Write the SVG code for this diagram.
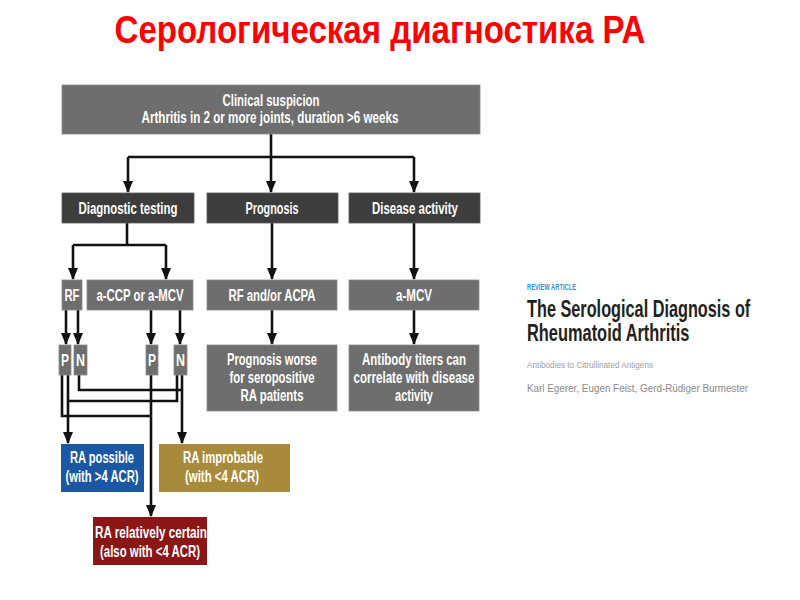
<svg xmlns="http://www.w3.org/2000/svg" width="800" height="600" viewBox="0 0 800 600">
<defs>
<style>
.t{font-family:"Liberation Sans",Arial,sans-serif;font-weight:bold;fill:#fff;font-size:16.5px;text-anchor:middle}
.mid{fill:#6e6e6e;stroke:#8a8a8a;stroke-width:0.8}
.dark{fill:#3d3d3d;stroke:#5a5a5a;stroke-width:0.8}
.c{fill:none;stroke:#111;stroke-width:2.6}
</style>
<marker id="ah" viewBox="0 0 12 10" refX="11" refY="5" markerWidth="12" markerHeight="10" markerUnits="userSpaceOnUse" orient="auto">
<path d="M0,0 L12,5 L0,10 Z" fill="#111"/>
</marker>
</defs>
<rect width="800" height="600" fill="#fff"/>
<text x="380" y="43" font-family="'Liberation Sans',Arial,sans-serif" font-weight="bold" font-size="38" fill="#f00" text-anchor="middle" textLength="531" lengthAdjust="spacingAndGlyphs">Серологическая диагностика РА</text>

<g id="connectors">
<path class="c" d="M271,134 V157 M128,157 H414"/>
<path class="c" d="M128,157 V192" marker-end="url(#ah)"/>
<path class="c" d="M271,157 V192" marker-end="url(#ah)"/>
<path class="c" d="M414,157 V192" marker-end="url(#ah)"/>
<path class="c" d="M127,223 V245 M73,245 H166"/>
<path class="c" d="M73,245 V279" marker-end="url(#ah)"/>
<path class="c" d="M166,245 V279" marker-end="url(#ah)"/>
<path class="c" d="M272,223 V279" marker-end="url(#ah)"/>
<path class="c" d="M414,223 V279" marker-end="url(#ah)"/>
<path class="c" d="M66,310 V344" marker-end="url(#ah)"/>
<path class="c" d="M78,310 V344" marker-end="url(#ah)"/>
<path class="c" d="M151,310 V344" marker-end="url(#ah)"/>
<path class="c" d="M180,310 V344" marker-end="url(#ah)"/>
<path class="c" d="M272,310 V344" marker-end="url(#ah)"/>
<path class="c" d="M414,310 V344" marker-end="url(#ah)"/>
<path class="c" d="M62,375 V416 H151"/>
<path class="c" d="M151,375 V516" marker-end="url(#ah)"/>
<path class="c" d="M68,375 V443" marker-end="url(#ah)"/>
<path class="c" d="M68,401 H177 V375"/>
<path class="c" d="M79,375 V390 H182"/>
<path class="c" d="M182,375 V443" marker-end="url(#ah)"/>
</g>

<g id="clinical">
<rect class="mid" x="62" y="85" width="418" height="49"/>
<text class="t" x="271" y="106" textLength="97" lengthAdjust="spacingAndGlyphs">Clinical suspicion</text>
<text class="t" x="270" y="123" textLength="257" lengthAdjust="spacingAndGlyphs">Arthritis in 2 or more joints, duration &gt;6 weeks</text>
</g>
<g id="diag">
<rect class="dark" x="62" y="193" width="132" height="30"/>
<text class="t" x="128" y="214" textLength="99" lengthAdjust="spacingAndGlyphs">Diagnostic testing</text>
</g>
<g id="prognosis">
<rect class="dark" x="207" y="193" width="131" height="30"/>
<text class="t" x="272" y="214" textLength="53" lengthAdjust="spacingAndGlyphs">Prognosis</text>
</g>
<g id="activity">
<rect class="dark" x="349" y="193" width="131" height="30"/>
<text class="t" x="415" y="214" textLength="86" lengthAdjust="spacingAndGlyphs">Disease activity</text>
</g>
<g id="rf">
<rect class="mid" x="62" y="280" width="20" height="30"/>
<text class="t" x="72" y="301" textLength="15" lengthAdjust="spacingAndGlyphs">RF</text>
</g>
<g id="accp">
<rect class="mid" x="87" y="280" width="106" height="30"/>
<text class="t" x="140" y="301" textLength="87" lengthAdjust="spacingAndGlyphs">a-CCP or a-MCV</text>
</g>
<g id="rfacpa">
<rect class="mid" x="207" y="280" width="130" height="30"/>
<text class="t" x="272" y="301" textLength="87" lengthAdjust="spacingAndGlyphs">RF and/or ACPA</text>
</g>
<g id="amcv">
<rect class="mid" x="349" y="280" width="130" height="30"/>
<text class="t" x="414" y="301" textLength="36" lengthAdjust="spacingAndGlyphs">a-MCV</text>
</g>
<g id="p1">
<rect class="mid" x="59" y="345" width="12" height="30"/>
<text class="t" x="65" y="366" textLength="8" lengthAdjust="spacingAndGlyphs">P</text>
</g>
<g id="n1">
<rect class="mid" x="74" y="345" width="13" height="30"/>
<text class="t" x="80.5" y="366" textLength="9" lengthAdjust="spacingAndGlyphs">N</text>
</g>
<g id="p2">
<rect class="mid" x="146" y="345" width="12" height="30"/>
<text class="t" x="152" y="366" textLength="8" lengthAdjust="spacingAndGlyphs">P</text>
</g>
<g id="n2">
<rect class="mid" x="174" y="345" width="13" height="30"/>
<text class="t" x="180.5" y="366" textLength="9" lengthAdjust="spacingAndGlyphs">N</text>
</g>
<g id="progworse">
<rect class="mid" x="207" y="345" width="130" height="66"/>
<text class="t" x="272" y="365" textLength="90" lengthAdjust="spacingAndGlyphs">Prognosis worse</text>
<text class="t" x="272" y="383" textLength="85" lengthAdjust="spacingAndGlyphs">for seropositive</text>
<text class="t" x="272" y="401" textLength="63" lengthAdjust="spacingAndGlyphs">RA patients</text>
</g>
<g id="titers">
<rect class="mid" x="349" y="345" width="130" height="66"/>
<text class="t" x="414" y="365" textLength="104" lengthAdjust="spacingAndGlyphs">Antibody titers can</text>
<text class="t" x="414" y="383" textLength="121" lengthAdjust="spacingAndGlyphs">correlate with disease</text>
<text class="t" x="414" y="401" textLength="38" lengthAdjust="spacingAndGlyphs">activity</text>
</g>
<g id="possible">
<rect x="61" y="444" width="83" height="48" fill="#1a58a3"/>
<text class="t" x="102" y="463" textLength="64" lengthAdjust="spacingAndGlyphs">RA possible</text>
<text class="t" x="102" y="482" textLength="73" lengthAdjust="spacingAndGlyphs">(with &gt;4 ACR)</text>
</g>
<g id="improbable">
<rect x="159" y="444" width="131" height="48" fill="#a88a3c"/>
<text class="t" x="223" y="463" textLength="80" lengthAdjust="spacingAndGlyphs">RA improbable</text>
<text class="t" x="222" y="482" textLength="74" lengthAdjust="spacingAndGlyphs">(with &lt;4 ACR)</text>
</g>
<g id="certain">
<rect x="93" y="517" width="114" height="48" fill="#8a1616"/>
<text class="t" x="151" y="538" textLength="112" lengthAdjust="spacingAndGlyphs">RA relatively certain</text>
<text class="t" x="150" y="557" textLength="100" lengthAdjust="spacingAndGlyphs">(also with &lt;4 ACR)</text>
</g>

<g id="article" font-family="'Liberation Sans',Arial,sans-serif">
<text x="527" y="290" font-size="9.5" font-weight="bold" fill="#3b8bcf" textLength="49" lengthAdjust="spacingAndGlyphs">REVIEW ARTICLE</text>
<text transform="translate(527,317) scale(0.678,1)" font-size="24" font-weight="bold" fill="#231f20">The Serological Diagnosis of</text>
<text transform="translate(527,341) scale(0.683,1)" font-size="24" font-weight="bold" fill="#231f20">Rheumatoid Arthritis</text>
<text x="527" y="368" font-size="9.5" fill="#a0a0a0" textLength="126" lengthAdjust="spacingAndGlyphs">Antibodies to Citrullinated Antigens</text>
<text x="527" y="392" font-size="10" fill="#8a8a8a" textLength="221" lengthAdjust="spacingAndGlyphs">Karl Egerer, Eugen Feist, Gerd-Rüdiger Burmester</text>
</g>
</svg>
